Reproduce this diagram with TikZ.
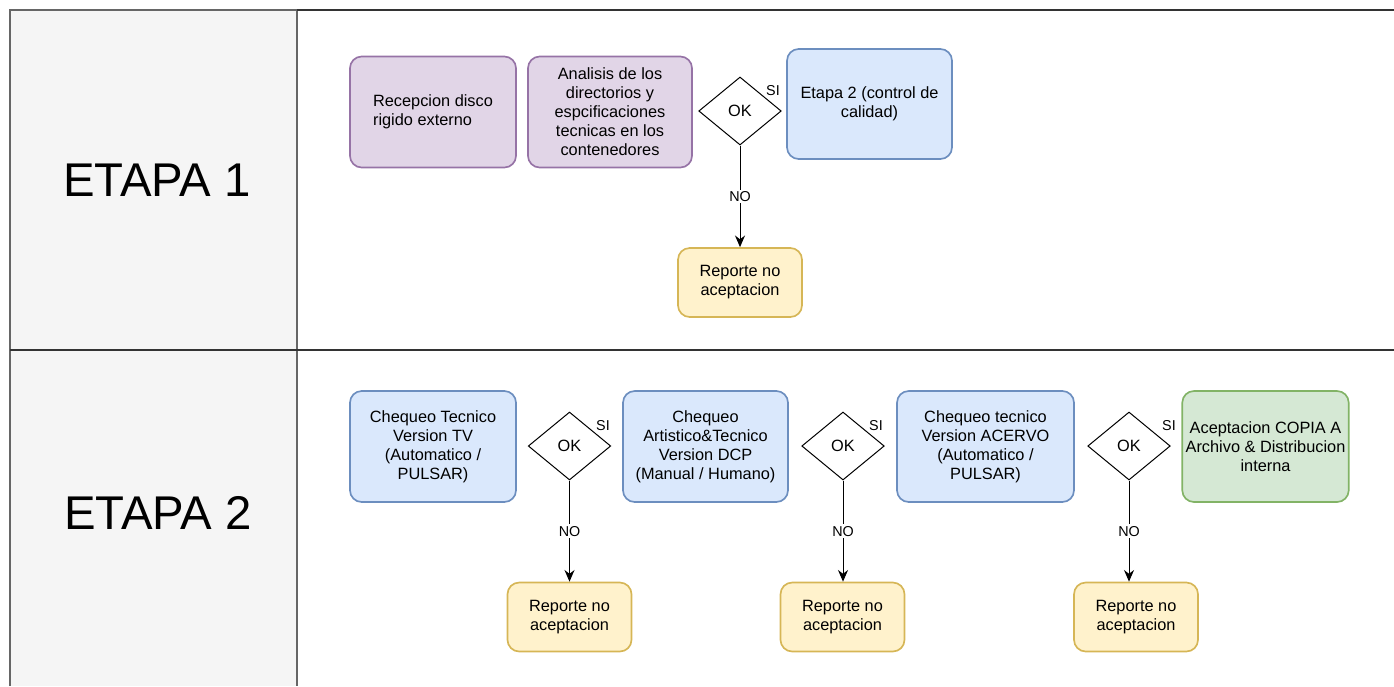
\documentclass[tikz,border=0pt]{standalone}
\usepackage{fontspec}
\setmainfont{Liberation Sans}
\usepackage{tikz}
\usetikzlibrary{shapes.geometric, arrows.meta, positioning}
\usepackage{xcolor}
\definecolor{lanefill}{HTML}{F5F5F5}
\definecolor{laneline}{HTML}{666666}
\definecolor{poolline}{HTML}{333333}
\definecolor{purpfill}{HTML}{E1D5E7}
\definecolor{purpline}{HTML}{9673A6}
\definecolor{bluefill}{HTML}{DAE8FC}
\definecolor{blueline}{HTML}{6C8EBF}
\definecolor{yelfill}{HTML}{FFF2CC}
\definecolor{yelline}{HTML}{D6B656}
\definecolor{grnfill}{HTML}{D5E8D4}
\definecolor{grnline}{HTML}{82B366}

\begin{document}
\begin{tikzpicture}[x=0.6pt, y=-0.6pt,
        every node/.style={font=\fontsize{9.8}{11.4}\selectfont},
        proc/.style={draw, rounded corners=7pt, line width=1pt, align=center,
            minimum width=99.6pt, minimum height=66.6pt, inner sep=2pt},
        purp/.style={proc, fill=purpfill, draw=purpline},
        azul/.style={proc, fill=bluefill, draw=blueline},
        verde/.style={proc, fill=grnfill, draw=grnline},
        reporte/.style={proc, fill=yelfill, draw=yelline, minimum width=74.4pt, minimum height=41.4pt},
        okbox/.style={diamond, draw, line width=0.6pt, inner sep=0pt, fill=white,
            minimum width=49.5pt, minimum height=40.8pt},
        flecha/.style={-{Stealth[length=7pt,width=6pt]}, line width=0.6pt},
        etiq/.style={font=\fontsize{8.6}{10}\selectfont, inner sep=1pt},
        etapa/.style={font=\fontsize{28.4}{34}\selectfont}]
        \useasboundingbox (0,0) rectangle (1394,686);
        % the two lanes
        \fill[lanefill] (10,10) rectangle (297,686);
        \draw[laneline, line width=1.2pt] (10,686) -- (10,10) -- (297,10) -- (297,686);
        \draw[poolline, line width=1.6pt] (297,10) -- (1394,10);
        \draw[poolline, line width=1.6pt] (10,350) -- (1394,350);
        \node[etapa] (e1) at (157,180) {ETAPA 1};
        \node[etapa] (e2) at (158,513) {ETAPA 2};
        \begin{scope}
        \node[purp, align=left] (recep) at (433,112) {Recepcion disco\\rigido externo};
        \node[purp, minimum width=98.4pt] (anal) at (610,112) {Analisis de los\\directorios y\\espcificaciones\\tecnicas en los\\contenedores};
        \node[okbox] (ok1) at (740,111) {OK};
        \node[etiq] (si1) at (773,91) {SI};
        \node[azul, minimum width=99pt, minimum height=66pt] (etapados) at (869.5,104) {Etapa 2 (control de\\calidad)};
        \node[reporte] (rep1) at (740,282.5) {Reporte no\\aceptacion};
        % Now the line down to the report
        \draw[flecha] (ok1.south) -- (ok1.south |- rep1.north) node[midway, etiq, fill=white] {NO};
        \end{scope}
        \begin{scope}
        \node[azul] (tv) at (433,446.5) {Chequeo Tecnico\\Version TV\\(Automatico /\\PULSAR)};
        \node[okbox] (ok2) at (569.5,446) {OK};
        \node[etiq] (si2) at (603,426) {SI};
        \node[azul, minimum width=99pt] (dcp) at (705.5,446.5) {Chequeo\\Artistico\&Tecnico\\Version DCP\\(Manual / Humano)};
        \node[okbox] (ok3) at (843,446) {OK};
        \node[etiq] (si3) at (876,426) {SI};
        \node[azul, minimum width=106.2pt] (acervo) at (985.5,446.5) {Chequeo tecnico\\Version ACERVO\\(Automatico /\\PULSAR)};
        \node[okbox] (ok4) at (1129,446) {OK};
        \node[etiq] (si4) at (1169,426) {SI};
        \node[verde, minimum width=99pt] (copia) at (1265.5,446.5) {Aceptacion COPIA A\\Archivo \& Distribucion\\interna};
        \node[reporte] (rep2) at (569.5,617) {Reporte no\\aceptacion};
        \node[reporte] (rep3) at (842.5,617) {Reporte no\\aceptacion};
        \node[reporte] (rep4) at (1136,617) {Reporte no\\aceptacion};
        % Now the lines down to the reports
        \draw[flecha] (ok2.south) -- (ok2.south |- rep2.north) node[midway, etiq, fill=white] {NO};
        \draw[flecha] (ok3.south) -- (ok3.south |- rep3.north) node[midway, etiq, fill=white] {NO};
        \draw[flecha] (ok4.south) -- (ok4.south |- rep4.north) node[midway, etiq, fill=white] {NO};
        \end{scope}
    \end{tikzpicture}
\end{document}
